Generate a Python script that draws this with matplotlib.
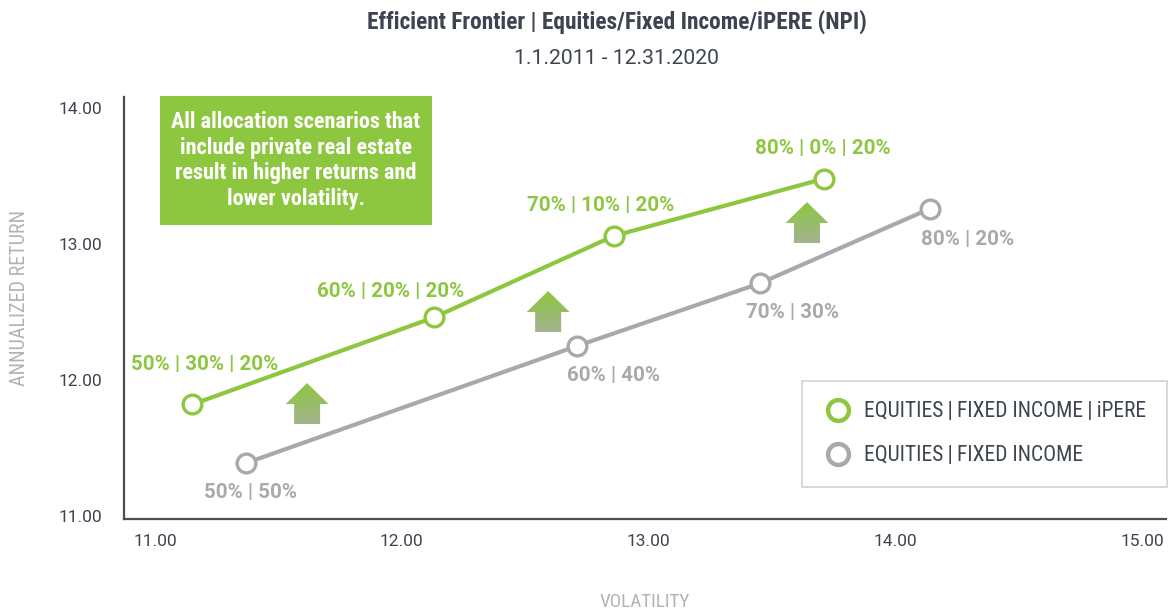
import numpy as np
import matplotlib
matplotlib.use("Agg")
import matplotlib.pyplot as plt
from matplotlib import font_manager
from matplotlib.patches import Rectangle, Polygon
from matplotlib.lines import Line2D
from matplotlib.colors import LinearSegmentedColormap

# ---------------- data ----------------
mix_vol = [11.15, 12.13, 12.86, 13.71]
mix_ret = [11.82, 12.46, 13.06, 13.48]
mix_labels = ["50% | 30% | 20%", "60% | 20% | 20%", "70% | 10% | 20%", "80% | 0% | 20%"]

base_vol = [11.37, 12.71, 13.45, 14.14]
base_ret = [11.39, 12.25, 12.71, 13.26]
base_labels = ["50% | 50%", "60% | 40%", "70% | 30%", "80% | 20%"]

x_ticks = [11.0, 12.0, 13.0, 14.0, 15.0]
y_ticks = [11.0, 12.0, 13.0, 14.0]

series_names = ["EQUITIES\u2009|\u2009FIXED INCOME\u2009|\u2009iPERE", "EQUITIES\u2009|\u2009FIXED INCOME"]

# ---------------- styling ----------------
GREEN = "#8DC63F"
GRAY = "#A7A9AC"
DARK = "#3D4450"
LIGHT = "#B0B2B5"

avail = {f.name for f in font_manager.fontManager.ttflist}
def pick(*names):
    for n in names:
        if n in avail:
            return n
    return "DejaVu Sans"

COND = pick("Liberation Sans Narrow", "Roboto Condensed", "Roboto", "Liberation Sans")
REG = pick("Roboto", "Liberation Sans")
plt.rcParams['font.family'] = [REG, 'DejaVu Sans']

W, H = 1172, 613
fig = plt.figure(figsize=(W / 100, H / 100), dpi=100)
ax_l, ax_r, ax_b, ax_t = 124, 1166, 519, 97
ax = fig.add_axes([ax_l / W, 1 - ax_b / H, (ax_r - ax_l) / W, (ax_b - ax_t) / H])

xlim = (10.874, 15.097)
ylim = (10.978, 14.081)
ax.set_xlim(*xlim)
ax.set_ylim(*ylim)

for s in ["top", "right"]:
    ax.spines[s].set_visible(False)
for s in ["left", "bottom"]:
    ax.spines[s].set_color("#4A4F57")
    ax.spines[s].set_linewidth(1.6)

ax.set_xticks(x_ticks)
ax.set_yticks(y_ticks)
ax.set_xticklabels([f"{v:.2f}" for v in x_ticks])
ax.set_yticklabels([f"{v:.2f}" for v in y_ticks])
ax.tick_params(axis="both", length=0, colors=DARK, labelsize=12.5)
ax.tick_params(axis="x", pad=11)
ax.tick_params(axis="y", pad=16)
for t in ax.get_xticklabels() + ax.get_yticklabels():
    t.set_family([REG, 'DejaVu Sans'])

# lines
ms, mew, lw = 13.5, 2.4, 3.0
ax.plot(base_vol, base_ret, color=GRAY, lw=lw, marker="o", ms=ms, mfc="white",
        mec=GRAY, mew=mew, zorder=3, solid_capstyle="round")
ax.plot(mix_vol, mix_ret, color=GREEN, lw=lw, marker="o", ms=ms, mfc="white",
        mec=GREEN, mew=mew, zorder=3, solid_capstyle="round")

# labels (offsets in points)
mix_off = [(9, 29), (-31, 19), (-10, 22), (-1, 22)]
base_off = [(3, -21), (26, -21), (24, -21), (27, -22)]
for x, y, lab, off in zip(mix_vol, mix_ret, mix_labels, mix_off):
    ax.annotate(lab, (x, y), xytext=off, textcoords="offset points", ha="center",
                va="center", color=GREEN, fontsize=14.8, fontweight="bold", family=[REG, 'DejaVu Sans'])
for x, y, lab, off in zip(base_vol, base_ret, base_labels, base_off):
    ax.annotate(lab, (x, y), xytext=off, textcoords="offset points", ha="center",
                va="center", color=GRAY, fontsize=14.8, fontweight="bold", family=[REG, 'DejaVu Sans'])

# gradient arrows (bottom-centre positions in data units)
arrow_x = [11.616, 12.593, 13.642]
arrow_y = [11.676, 12.353, 13.007]
pxx = (ax_r - ax_l) / (xlim[1] - xlim[0])
pxy = (ax_b - ax_t) / (ylim[1] - ylim[0])
head_w, shaft_w, tot_h, head_h = 43, 26, 41, 21
grad = np.linspace(0, 1, 100).reshape(-1, 1)
cmap = LinearSegmentedColormap.from_list("ag", ["#A3B48F", GREEN])
for bx, by in zip(arrow_x, arrow_y):
    hw = head_w / 2 / pxx
    sw = shaft_w / 2 / pxx
    th = tot_h / pxy
    sh = (tot_h - head_h) / pxy
    verts = [(bx - sw, by), (bx + sw, by), (bx + sw, by + sh), (bx + hw, by + sh),
             (bx, by + th), (bx - hw, by + sh), (bx - sw, by + sh)]
    poly = Polygon(verts, closed=True, facecolor="none", edgecolor="none")
    ax.add_patch(poly)
    im = ax.imshow(grad, extent=(bx - hw, bx + hw, by, by + th), origin="lower",
                   cmap=cmap, aspect="auto", zorder=2, interpolation="bilinear")
    im.set_clip_path(poly)

# callout box
bx0, bx1, by0, by1 = 160, 432, 96, 225
fig.patches.append(Rectangle((bx0 / W, 1 - by1 / H), (bx1 - bx0) / W, (by1 - by0) / H,
                             transform=fig.transFigure, facecolor=GREEN, edgecolor="none", zorder=5))
fig.text((bx0 + bx1) / 2 / W, 1 - (by0 + by1) / 2 / H,
         "All allocation scenarios that\ninclude private real estate\nresult in higher returns and\nlower volatility.",
         ha="center", va="center", color="white", fontsize=16, fontweight="bold",
         family=[COND, 'DejaVu Sans'], linespacing=1.22, zorder=6)

# titles
fig.text(617 / W, 1 - 22 / H, "Efficient Frontier | Equities/Fixed Income/iPERE (NPI)",
         ha="center", va="center", color=DARK, fontsize=16.8, fontweight="bold",
         family=[COND, 'DejaVu Sans'])
fig.text(617 / W, 1 - 58 / H, "1.1.2011 - 12.31.2020", ha="center", va="center",
         color=DARK, fontsize=15.2, family=[REG, 'DejaVu Sans'])

# axis labels
fig.text(20 / W, 1 - 298 / H, "ANNUALIZED RETURN", rotation=90, ha="center", va="center",
         color=LIGHT, fontsize=14.5, family=[COND, 'DejaVu Sans'])
fig.text(645 / W, 1 - 602 / H, "VOLATILITY", ha="center", va="center",
         color=LIGHT, fontsize=13.8, family=[COND, 'DejaVu Sans'])

# legend
handles = [Line2D([], [], ls="none", marker="o", ms=15, mfc="white", mec=GREEN, mew=3.2),
           Line2D([], [], ls="none", marker="o", ms=15, mfc="white", mec=GRAY, mew=3.2)]
leg = ax.legend(handles, series_names, loc="upper right",
                bbox_to_anchor=(1167 / W, 1 - 381 / H), bbox_transform=fig.transFigure,
                frameon=True, fancybox=False, borderaxespad=0,
                prop={"family": [COND, 'DejaVu Sans'], "size": 15.5},
                labelspacing=1.05, borderpad=0.95, handletextpad=0.55, handlelength=1.4,
                labelcolor=DARK)
leg.get_frame().set_edgecolor("#C4C6C8")
leg.get_frame().set_linewidth(1.2)

fig.savefig("out.png", dpi=100)
